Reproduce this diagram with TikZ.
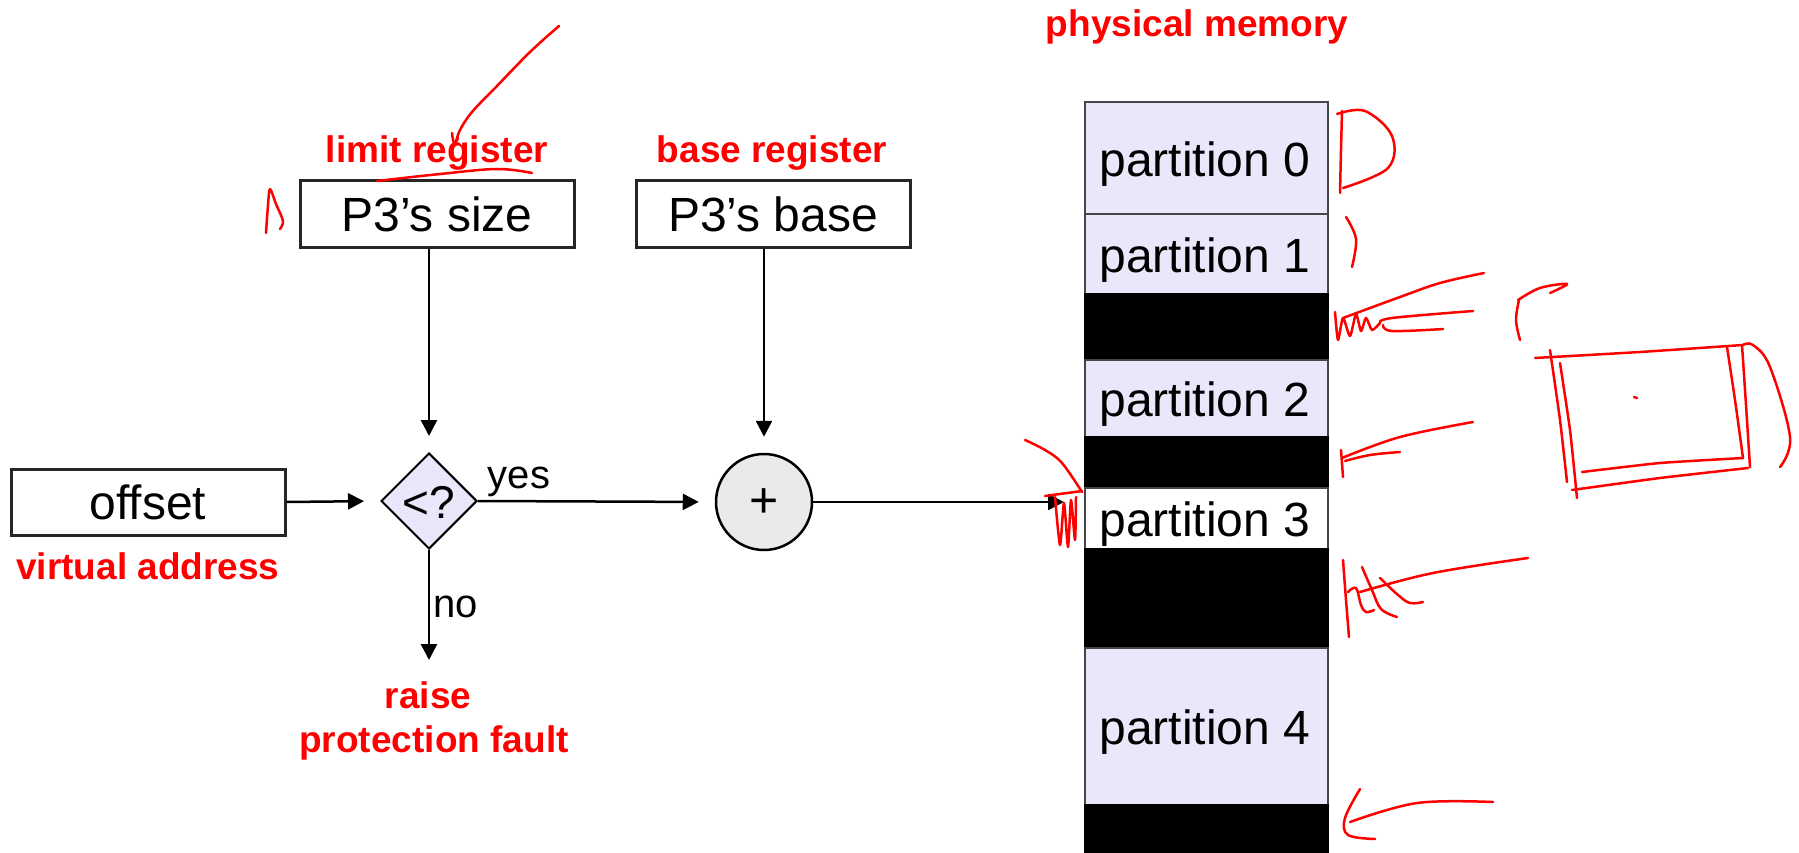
\documentclass[tikz,border=0pt]{standalone}
\usepackage{fontspec}
\setmainfont{Liberation Sans}
\usetikzlibrary{arrows.meta,shapes.geometric}
\definecolor{lav}{RGB}{232,232,250}
\definecolor{cgray}{RGB}{236,233,233}
\definecolor{memline}{RGB}{70,70,70}
\begin{document}
\begin{tikzpicture}[x=1pt,y=-1pt,
  box/.style={draw=black!85, line width=3pt, fill=white, inner sep=0pt, font=\fontsize{48}{56}\selectfont},
  redlbl/.style={text=red, font=\fontsize{37}{44}\selectfont\bfseries, inner sep=0pt, anchor=base},
  smalllbl/.style={font=\fontsize{40}{48}\selectfont, inner sep=0pt, anchor=base},
  ptext/.style={font=\fontsize{48}{56}\selectfont, inner sep=0pt, anchor=base},
  arr/.style={-{Triangle[length=16pt,width=16pt]}, line width=2.5pt, shorten >=16pt},
  mem/.style={draw=memline, line width=2pt, fill=lav, minimum width=243pt, inner sep=0pt, anchor=north west},
  hole/.style={draw=black, line width=2pt, fill=black, minimum width=243pt, inner sep=0pt, anchor=north west},
  annot/.style={red, line width=2.5pt, line cap=round, line join=round}]
\useasboundingbox (0,0) rectangle (1799,853);

% labels
\node[redlbl] (limlbl) at (437,163) {limit register};
\node[redlbl] (baselbl) at (772,163) {base register};
\node[redlbl] (physlbl) at (1197,37) {physical memory};
\node[redlbl] (valbl) at (148,579) {virtual address};
\node[redlbl] (raiselbl) at (428,708) {raise};
\node[redlbl] (faultlbl) at (434,752) {protection fault};

% boxes
\node[box, minimum width=274pt, minimum height=66pt] (sz) at (437,214) {P3’s size};
\node[box, minimum width=274pt, minimum height=66pt] (bs) at (773,214) {P3’s base};
\node[box, minimum width=274pt, minimum height=66pt] (off) at (148,502) {offset};

% comparator
\node[diamond, draw=black, fill=lav, line width=2pt, minimum width=96pt, minimum height=96pt, inner sep=0pt] (dia) at (429,501) {};
\node[font=\fontsize{46}{54}\selectfont, inner sep=0pt, anchor=base] (diat) at (429,518) {<?};

% adder
\node[circle, draw=black, fill=cgray, line width=2.5pt, minimum size=96pt, inner sep=0pt] (pl) at (764,502) {};
\node[font=\fontsize{50}{58}\selectfont, inner sep=0pt] (plt) at (764,503) {+};

\node[smalllbl] (yes) at (519,488) {yes};
\node[smalllbl] (no) at (456,617) {no};

% memory
\node[mem, minimum height=112pt] (p0) at (1084,101) {};
\node[mem, minimum height=80pt] (p1) at (1084,213) {};
\node[hole, minimum height=66pt] (g1) at (1084,293) {};
\node[mem, minimum height=77pt] (p2) at (1084,359) {};
\node[hole, minimum height=51pt] (g2) at (1084,436) {};
\node[mem, fill=white, minimum height=61pt] (p3) at (1084,487) {};
\node[hole, minimum height=99pt] (g3) at (1084,548) {};
\node[mem, minimum height=157pt] (p4) at (1084,647) {};
\node[hole, minimum height=52pt] (g4) at (1084,804) {};

\node[ptext] (t0) at (1205,177) {partition 0};
\node[ptext] (t1) at (1205,272) {partition 1};
\node[ptext] (t2) at (1205,416) {partition 2};
\node[ptext] (t3) at (1205,536) {partition 3};
\node[ptext] (t4) at (1205,744) {partition 4};

% connectors
\coordinate (faultend) at (429,660);
\draw[arr] (sz.south -| dia.north) -- (dia.north);
\draw[arr] (bs.south -| pl.north) -- (pl.north);
\draw[arr] (off.east) -- (dia.west);
\draw[arr] (dia.east) -- (pl.west);
\draw[arr, shorten >=0pt] (dia.south) -- (faultend);
\draw[arr, shorten >=20pt] (pl.east) -- (pl.east -| p3.west);

% hand-drawn annotations
\draw[annot] plot[smooth, tension=0.6] coordinates {(559,26) (530,52) (497,86) (472,112) (460,130) (456,142)};
\draw[annot] plot[smooth, tension=0.6] coordinates {(452,133) (454,143) (458,138)};
\draw[annot] plot[smooth, tension=0.6] coordinates {(377,181) (440,174) (497,169) (532,173)};
\draw[annot] plot[smooth, tension=0.5] coordinates {(266,233) (268,205) (270,189) (276,204) (283,221) (280,229)};
\draw[annot] plot[smooth, tension=0.6] coordinates {(1025,440) (1045,450) (1062,463) (1082,492)};
\draw[annot] plot[smooth, tension=0.6] coordinates {(1045,496) (1082,491)};
\draw[annot] plot[smooth, tension=0.4] coordinates {(1055,497) (1060,545) (1064,503) (1068,547) (1071,500) (1075,540) (1076,497)};
\draw[annot] plot[smooth, tension=0.6] coordinates {(1342,111) (1341,150) (1340,193)};
\draw[annot] plot[smooth, tension=0.6] coordinates {(1337,114) (1365,111) (1392,136) (1388,168) (1343,188)};
\draw[annot] plot[smooth, tension=0.6] coordinates {(1346,217) (1356,239) (1352,267)};
\draw[annot] plot[smooth, tension=0.6] coordinates {(1484,273) (1440,283) (1400,297) (1343,318)};
\draw[annot] plot[smooth, tension=0.4] coordinates {(1335,312) (1338,340) (1343,318) (1350,336) (1356,314) (1361,331) (1366,318) (1372,330) (1380,323)};
\draw[annot] plot[smooth, tension=0.6] coordinates {(1380,323) (1392,318) (1473,311)};
\draw[annot] plot[smooth, tension=0.6] coordinates {(1443,329) (1392,331) (1383,325)};
\draw[annot] plot[smooth, tension=0.6] coordinates {(1520,340) (1516,320) (1519,300)};
\draw[annot] plot[smooth, tension=0.6] coordinates {(1518,300) (1540,288) (1567,284) (1550,293)};
\draw[annot] plot[smooth, tension=0.3] coordinates {(1535,358) (1640,352) (1743,345)};
\draw[annot] plot[smooth, tension=0.3] coordinates {(1550,350) (1560,420) (1567,482)};
\draw[annot] plot[smooth, tension=0.3] coordinates {(1560,363) (1570,430) (1577,498)};
\draw[annot] plot[smooth, tension=0.3] coordinates {(1572,490) (1660,478) (1748,468)};
\draw[annot] plot[smooth, tension=0.3] coordinates {(1582,472) (1660,463) (1743,458)};
\draw[annot] plot[smooth, tension=0.3] coordinates {(1727,347) (1735,400) (1743,458)};
\draw[annot] plot[smooth, tension=0.3] coordinates {(1742,345) (1746,405) (1750,467)};
\draw[annot] plot[smooth, tension=0.6] coordinates {(1743,345) (1753,345) (1770,367) (1790,437) (1780,467)};
\draw[annot] (1634,397) -- (1637,398);
\draw[annot] plot[smooth, tension=0.6] coordinates {(1473,422) (1400,437) (1342,458)};
\draw[annot] plot[smooth, tension=0.6] coordinates {(1341,450) (1343,477)};
\draw[annot] plot[smooth, tension=0.6] coordinates {(1345,461) (1370,455) (1400,452)};
\draw[annot] plot[smooth, tension=0.6] coordinates {(1343,560) (1346,600) (1349,637)};
\draw[annot] plot[smooth, tension=0.6] coordinates {(1348,592) (1356,588) (1361,605) (1366,612) (1374,610)};
\draw[annot] plot[smooth, tension=0.6] coordinates {(1362,567) (1372,590) (1381,609) (1397,617)};
\draw[annot] plot[smooth, tension=0.6] coordinates {(1360,592) (1433,573) (1528,558)};
\draw[annot] plot[smooth, tension=0.6] coordinates {(1380,578) (1398,595) (1410,603) (1423,602)};
\draw[annot] plot[smooth, tension=0.6] coordinates {(1493,802) (1417,803) (1350,822)};
\draw[annot] plot[smooth, tension=0.6] coordinates {(1360,789) (1345,818) (1348,835) (1375,839)};
\end{tikzpicture}
\end{document}
